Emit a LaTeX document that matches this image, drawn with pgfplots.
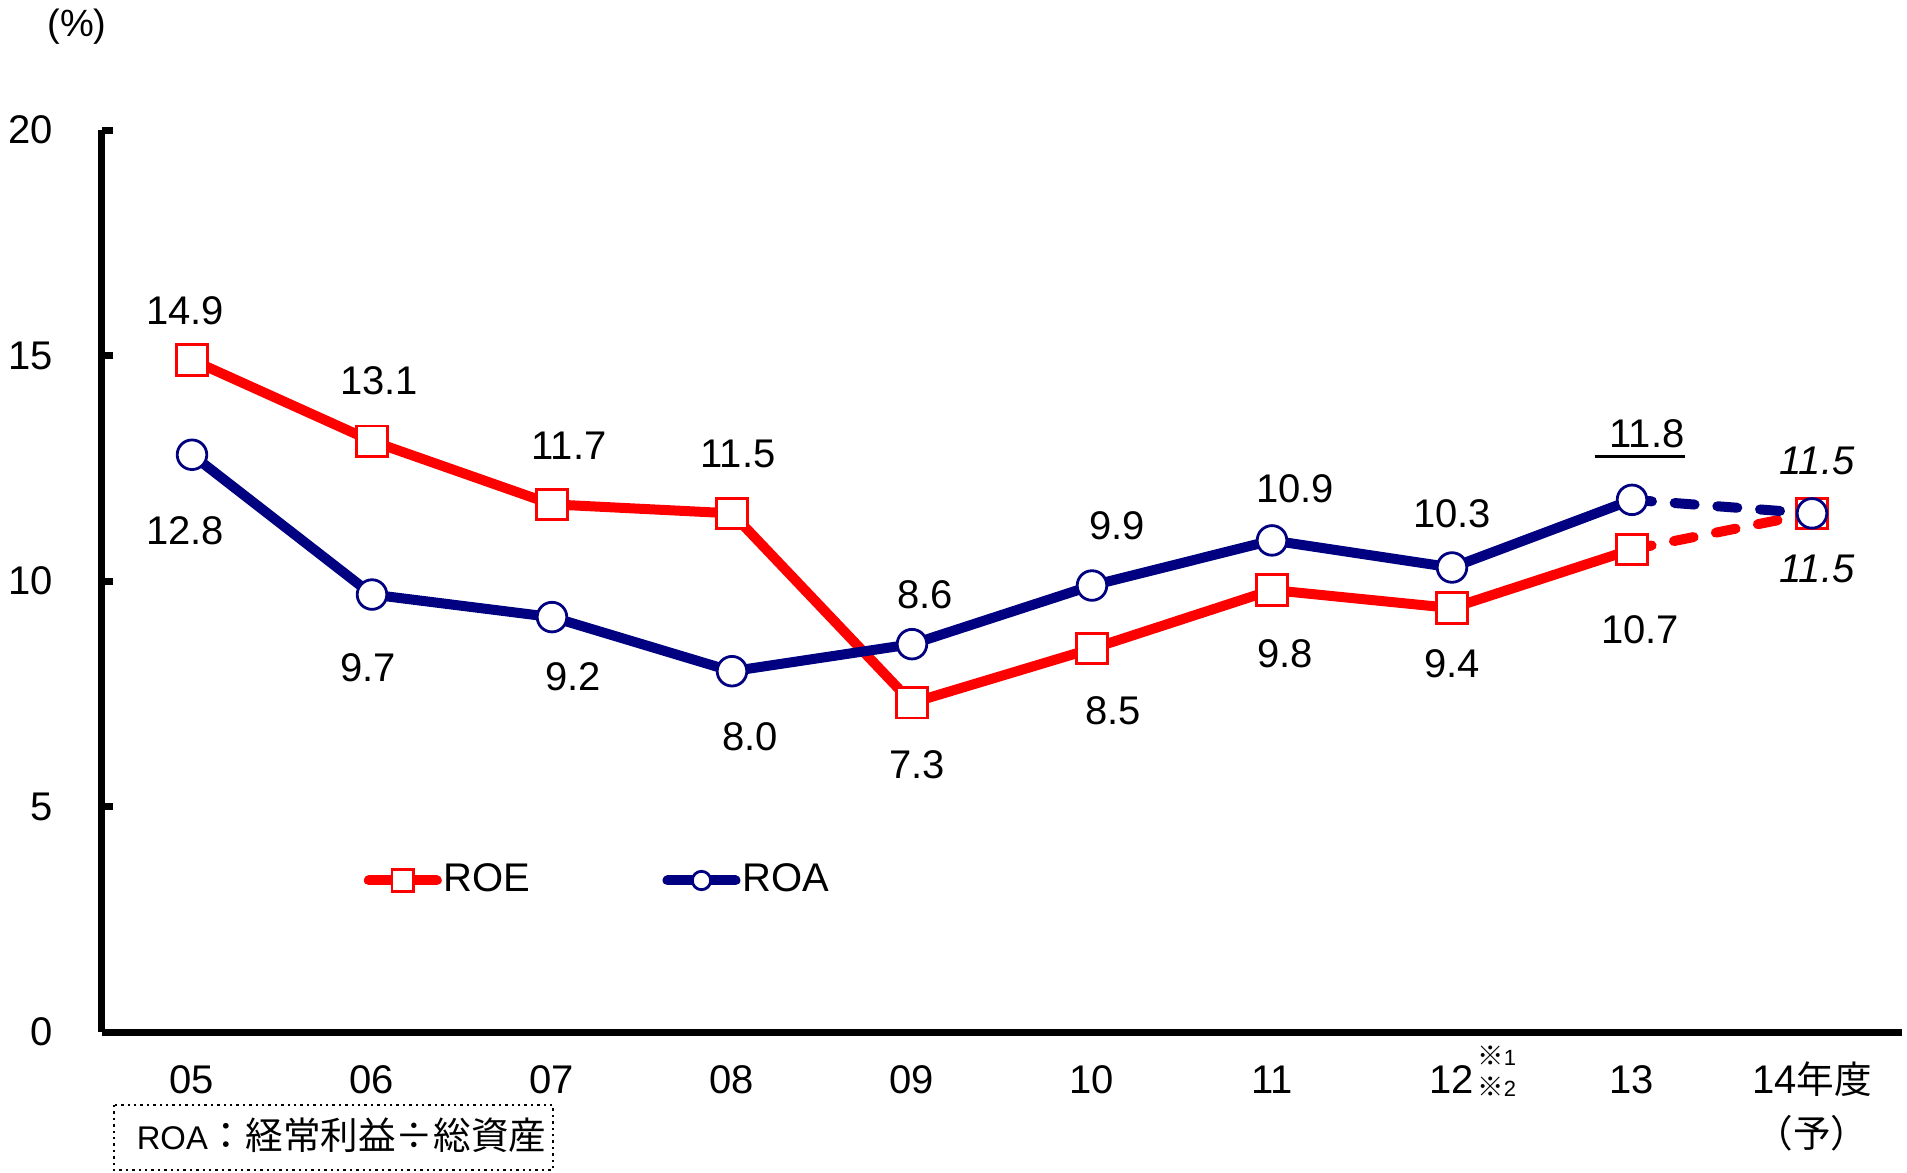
\documentclass[border=0pt]{standalone}
\usepackage{fontspec}
\setmainfont{Liberation Sans}
\newfontfamily\jp{Noto Sans CJK JP}
\usepackage{pgfplots}
\usepackage{pgfplotstable}
\pgfplotsset{compat=1.18}
\definecolor{roa}{RGB}{0,0,128}
\definecolor{roe}{RGB}{255,0,0}
\newcommand{\myul}[1]{\smash{\rlap{\kern-3.75pt\rule[-2.65pt]{22.5pt}{0.9pt}}}#1}
\newcommand{\kome}{\rlap{\hspace{0.8pt}\raisebox{7.0pt}{{\jp\fontsize{6.6}{7}\selectfont ※}{\fontsize{5.5}{7}\selectfont 1}}}\rlap{\hspace{0.8pt}\raisebox{-0.9pt}{{\jp\fontsize{6.6}{7}\selectfont ※}{\fontsize{5.5}{7}\selectfont 2}}}}

\pgfplotstableread{
x y dx dy lab
0 14.9 -1.75 12.3 14.9
1 13.1 1.75 15 13.1
2 11.7 4.25 14.75 11.7
3 11.5 1.5 14.75 11.5
4 7.3 1.25 -15.5 7.3
5 8.5 5.25 -15.5 8.5
6 9.8 3.25 -16 9.8
7 9.4 0 -14 9.4
8 10.7 2 -20 10.7
9 11.5 1.25 -14 \textit{11.5}
}\roetab

\pgfplotstableread{
x y dx dy lab
0 12.8 -1.75 -19 12.8
1 9.7 -1 -18.25 9.7
2 9.2 5.25 -15 9.2
3 8.0 4.5 -16.5 8.0
4 8.6 3.25 12.25 8.6
5 9.9 6.25 15 9.9
6 10.9 5.75 13 10.9
7 10.3 0 13.5 10.3
8 11.8 3.75 16.5 \myul{11.8}
9 11.5 1.25 13 \textit{11.5}
}\roatab

\begin{document}
\begin{tikzpicture}
\begin{axis}[
  at={(0,0)}, anchor=south west,
  width=450pt, height=225.5pt, scale only axis,
  xmin=-0.5, xmax=9.5, ymin=0, ymax=20,
  axis lines*=left,
  axis line style={line width=1.75pt, black},
  ytick={0,5,10,15,20},
  xtick={0,...,9},
  xticklabels={05,06,07,08,09,10,11,{12\kome},13,{14{\jp\fontsize{9.4}{11}\selectfont 年度}}},
  minor xtick={-0.5,0.5,...,9.5},
  xtick style={draw=none},
  minor x tick style={line width=1.75pt, black},
  ytick style={line width=1.75pt, black},
  tick align=inside,
  major tick length=2.7pt, minor tick length=2.7pt,
  tick label style={font=\fontsize{10}{12}\selectfont},
  /pgf/number format/assume math mode=true,
  yticklabel style={xshift=-8.7pt},
  xticklabel style={text height=7.2pt, text depth=0pt, yshift=-4.6pt},
  clip=false,
  legend columns=2,
  legend style={draw=none, fill=none, at={(0.145,0.168)}, anchor=west, inner sep=0pt,
    font=\fontsize{10}{12}\selectfont,
    /tikz/every odd column/.append style={column sep=-1.5pt},
    /tikz/every even column/.append style={column sep=31pt}},
  legend image code/.code={\draw[mark repeat=2,mark phase=2,#1] plot coordinates {(0pt,0pt)(8.5pt,0pt)(17pt,0pt)};},
]
\addplot[roe, line width=2.5pt, line cap=round, line join=round, restrict x to domain=0:8, forget plot] table[x=x,y=y]{\roetab};
\addplot[roe, line width=2.5pt, line cap=round, dash pattern=on 5pt off 5.7pt, restrict x to domain=8:9, forget plot] table[x=x,y=y]{\roetab};
\addplot[roa, line width=2.5pt, line cap=round, line join=round, restrict x to domain=0:8, forget plot] table[x=x,y=y]{\roatab};
\addplot[roa, line width=2.5pt, line cap=round, dash pattern=on 5pt off 5.7pt, restrict x to domain=8:9, forget plot] table[x=x,y=y]{\roatab};

\addplot[only marks, mark=square*, mark size=3.8pt, mark options={fill=white, draw=roe, line width=0.7pt},
  nodes near coords, point meta=explicit symbolic,
  visualization depends on={\thisrow{dx}\as\lbx},
  visualization depends on={\thisrow{dy}\as\lby},
  every node near coord/.append style={anchor=center, xshift=\lbx pt, yshift=\lby pt, font=\fontsize{10}{12}\selectfont, text=black},
  forget plot] table[x=x,y=y,meta=lab]{\roetab};
\addplot[only marks, mark=*, mark size=3.7pt, mark options={fill=white, draw=roa, line width=0.7pt},
  nodes near coords, point meta=explicit symbolic,
  visualization depends on={\thisrow{dx}\as\lbx},
  visualization depends on={\thisrow{dy}\as\lby},
  every node near coord/.append style={anchor=center, xshift=\lbx pt, yshift=\lby pt, font=\fontsize{10}{12}\selectfont, text=black},
  forget plot] table[x=x,y=y,meta=lab]{\roatab};

\addlegendimage{roe, line width=2.5pt, line cap=round, mark=square*, mark size=2.7pt, mark options={fill=white, draw=roe, line width=0.7pt}}
\addlegendentry{ROE}
\addlegendimage{roa, line width=2.5pt, line cap=round, mark=*, mark size=2.3pt, mark options={fill=white, draw=roa, line width=0.7pt}}
\addlegendentry{ROA}

\node[font=\fontsize{9.5}{12}\selectfont, xshift=-6.25pt, yshift=25.75pt] at (rel axis cs:0,1) {(\%)};
\node[font=\jp\fontsize{9.4}{11}\selectfont, yshift=-25.25pt] at (axis cs:9,0) {（予）};
\end{axis}
\draw[densely dotted, line width=0.6pt] (3pt,-18.25pt) rectangle (112.75pt,-34.5pt);
\node[anchor=west, inner sep=0pt] at (8.5pt,-25.75pt) {{\fontsize{8.2}{10}\selectfont ROA}{\jp\fontsize{9.4}{11}\selectfont ：経常利益\makebox[9.4pt]{÷}総資産}};
\pgfresetboundingbox
\path[use as bounding box] (-25.5pt,-35pt) rectangle (451.25pt,258pt);
\end{tikzpicture}
\end{document}
